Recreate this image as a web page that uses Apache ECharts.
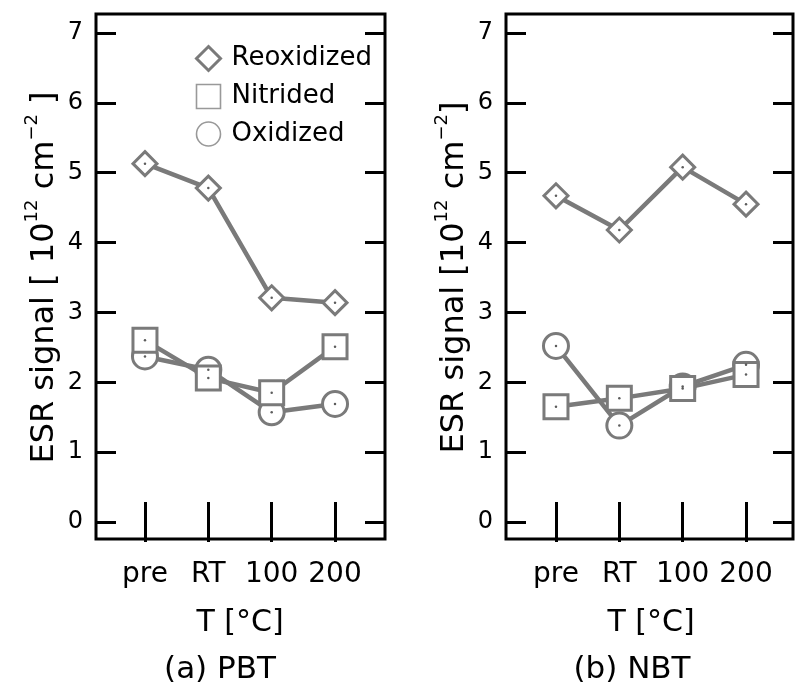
<!DOCTYPE html>
<html>
<head>
<meta charset="utf-8">
<script src="https://cdn.jsdelivr.net/npm/echarts@6/dist/echarts.min.js"></script>
<style>
html,body{margin:0;padding:0;background:#fff;}
#chart{width:795px;height:696px;}
</style>
</head>
<body>
<div id="chart"></div>
<script>
// ---- data ----
var categories = ['pre', 'RT', '100', '200'];
var seriesNames = ['Reoxidized', 'Nitrided', 'Oxidized'];
// (a) PBT
var pbtReoxidized = [5.13, 4.78, 3.21, 3.14];
var pbtNitrided   = [2.60, 2.06, 1.85, 2.51];
var pbtOxidized   = [2.37, 2.18, 1.57, 1.69];
// (b) NBT
var nbtReoxidized = [4.67, 4.18, 5.08, 4.55];
var nbtNitrided   = [1.65, 1.77, 1.91, 2.11];
var nbtOxidized   = [2.52, 1.38, 1.94, 2.25];
var yMin = 0, yMax = 7, yInterval = 1;
var panelTitles = ['(a) PBT', '(b) NBT'];
var xAxisName = 'T [\u00B0C]';
var yAxisNames = [
  '{m|ESR signal [ 10}{s|12}{m| cm}{s|\u22122}{m| ]}',
  '{m|ESR signal [10}{s|12}{m| cm}{s|\u22122}{m|]}'
];

// ---- style ----
var FONT = 'DejaVu Sans';
var GRAY = '#7a7a7a';
var BLACK = '#000';

var panels = [
  {frame: {left: 96, top: 14, width: 289, height: 525}, data: {left: 113.3, top: 33, width: 253.4, height: 489}, captionShift: 40},
  {frame: {left: 506, top: 14, width: 287, height: 525}, data: {left: 524.3, top: 33, width: 253.4, height: 489}, captionShift: 38}
];

var grids = [], xAxes = [], yAxes = [], series = [];
panels.forEach(function (p, i) {
  grids.push({left: p.frame.left, top: p.frame.top, width: p.frame.width, height: p.frame.height,
    show: true, borderColor: BLACK, borderWidth: 3, backgroundColor: 'transparent', outerBoundsMode: 'none', containLabel: false});
});
panels.forEach(function (p, i) {
  grids.push({left: p.data.left, top: p.data.top, width: p.data.width, height: p.data.height,
    show: false, outerBoundsMode: 'none', containLabel: false});
});

function tickStyle() { return {show: true, inside: true, length: 20, alignWithLabel: true, lineStyle: {color: BLACK, width: 3}}; }

panels.forEach(function (p, i) {
  var g = 2 + i;
  var fr = p.frame, d = p.data;
  var offB = (fr.top + fr.height) - (d.top + d.height);
  var offT = d.top - fr.top;
  var offL = d.left - fr.left;
  var offR = (fr.left + fr.width) - (d.left + d.width);
  // bottom category axis with labels
  xAxes.push({gridIndex: g, type: 'category', data: categories, position: 'bottom', offset: offB,
    boundaryGap: true, axisLine: {show: false}, axisTick: tickStyle(), splitLine: {show: false},
    axisLabel: {show: true, fontSize: 28, fontFamily: FONT, color: BLACK, margin: 22, interval: 0},
    name: xAxisName, nameLocation: 'middle', nameGap: 69,
    nameTextStyle: {fontSize: 30, lineHeight: 30, fontFamily: FONT, color: BLACK}});
  // top ticks
  xAxes.push({gridIndex: g, type: 'category', data: categories, position: 'top', offset: offT,
    boundaryGap: true, axisLine: {show: false}, axisTick: tickStyle(), axisLabel: {show: false}, splitLine: {show: false}});
  // caption axis (name only)
  xAxes.push({gridIndex: g, type: 'category', data: categories, position: 'bottom', offset: offB,
    axisLine: {show: false}, axisTick: {show: false}, axisLabel: {show: false}, splitLine: {show: false},
    name: panelTitles[i], nameLocation: 'middle', nameGap: 115,
    nameTextStyle: {fontSize: 31, lineHeight: 31, fontFamily: FONT, color: BLACK, padding: [0, p.captionShift, 0, 0]}});
  // left value axis
  yAxes.push({gridIndex: g, type: 'value', min: yMin, max: yMax, interval: yInterval, position: 'left', offset: offL,
    axisLine: {show: false}, axisTick: tickStyle(), splitLine: {show: false},
    axisLabel: {fontSize: 24, fontFamily: FONT, color: BLACK, margin: 13},
    name: yAxisNames[i], nameLocation: 'middle', nameRotate: 90, nameGap: 29,
    nameTextStyle: {color: BLACK, fontFamily: FONT, rich: {
      m: {fontSize: 32, lineHeight: 44, fontFamily: FONT, color: BLACK, verticalAlign: 'middle'},
      s: {fontSize: 18, lineHeight: 18, fontFamily: FONT, color: BLACK, verticalAlign: 'top'}
    }}});
  // right ticks
  yAxes.push({gridIndex: g, type: 'value', min: yMin, max: yMax, interval: yInterval, position: 'right', offset: offR,
    axisLine: {show: false}, axisTick: tickStyle(), axisLabel: {show: false}, splitLine: {show: false}});
});

var panelData = [
  {Reoxidized: pbtReoxidized, Nitrided: pbtNitrided, Oxidized: pbtOxidized},
  {Reoxidized: nbtReoxidized, Nitrided: nbtNitrided, Oxidized: nbtOxidized}
];
var symbols = {Reoxidized: 'diamond', Nitrided: 'rect', Oxidized: 'circle'};
var sizes = {Reoxidized: 24, Nitrided: 24, Oxidized: 25};
var drawOrder = ['Oxidized', 'Nitrided', 'Reoxidized'];

panelData.forEach(function (pd, i) {
  drawOrder.forEach(function (name) {
    series.push({type: 'line', name: name, xAxisIndex: i * 3, yAxisIndex: i * 2, data: pd[name],
      symbol: symbols[name], symbolSize: sizes[name], showSymbol: true, showAllSymbol: true,
      lineStyle: {color: GRAY, width: 4.5}, itemStyle: {color: '#fff', borderColor: GRAY, borderWidth: 3},
      emphasis: {disabled: true}, silent: true, animation: false, z: 2});
  });
  drawOrder.forEach(function (name) {
    series.push({type: 'scatter', name: name + ' center', xAxisIndex: i * 3, yAxisIndex: i * 2, data: pd[name],
      symbol: 'circle', symbolSize: 2.5, itemStyle: {color: '#333'}, silent: true, animation: false, z: 3});
  });
});

var option = {
  backgroundColor: '#fff',
  animation: false,
  grid: grids,
  xAxis: xAxes,
  yAxis: yAxes,
  legend: {
    left: 190, top: 40, orient: 'vertical', itemWidth: 24, itemHeight: 24, itemGap: 11.5,
    selectedMode: false,
    textStyle: {fontSize: 26, lineHeight: 24, fontFamily: FONT, color: BLACK, padding: [0, 0, 0, 6]},
    data: [
      {name: 'Reoxidized', icon: 'diamond', itemStyle: {color: '#fff', borderColor: GRAY, borderWidth: 3}},
      {name: 'Nitrided', icon: 'rect', itemStyle: {color: '#fff', borderColor: '#999', borderWidth: 1.6}},
      {name: 'Oxidized', icon: 'circle', itemStyle: {color: '#fff', borderColor: '#999', borderWidth: 1.6}}
    ]
  },
  series: series
};

var chart = echarts.init(document.getElementById('chart'), null, {renderer: 'canvas'});
chart.setOption(option);
</script>
</body>
</html>
